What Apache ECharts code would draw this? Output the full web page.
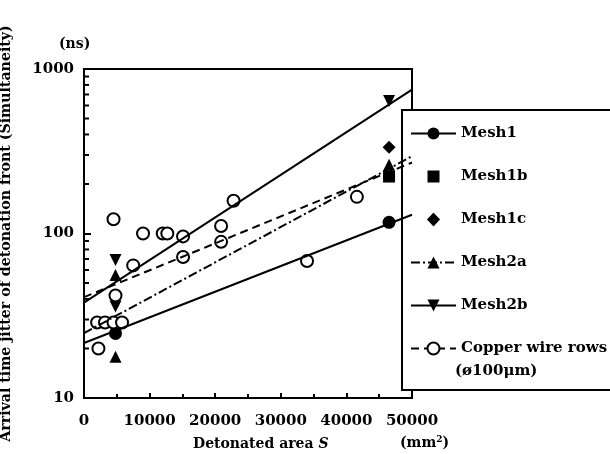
<!DOCTYPE html>
<html>
<head>
<meta charset="utf-8">
<script src="https://cdn.jsdelivr.net/npm/echarts@6/dist/echarts.min.js"></script>
<style>
  html, body { margin: 0; padding: 0; background: #fff; }
  #chart { width: 610px; height: 454px; }
</style>
</head>
<body>
<div id="chart"></div>
<script>
// measured points [area mm2, jitter ns]
var mesh1 = [[4800, 24.7], [46500, 117]];
var mesh1Fit = [[0, 21.6], [50000, 130]];
var mesh1b = [[46500, 222]];
var mesh1c = [[46500, 335]];
var mesh2a = [[4800, 56], [4800, 17.8], [46500, 262]];
var mesh2aFit = [[0, 24.8], [50000, 295]];
var mesh2b = [[4800, 69], [4800, 36], [46500, 640]];
var mesh2bFit = [[0, 38], [50000, 750]];
var copper = [[2200, 20], [2000, 28.8], [3200, 28.8], [4500, 28.8], [5800, 28.8],
  [4800, 42], [4500, 122], [7500, 64], [9000, 100], [12000, 100], [12700, 100],
  [15100, 96], [15100, 72], [20900, 111], [20900, 89], [22800, 158], [34000, 68], [41600, 167]];
var copperFit = [[0, 41], [50000, 270]];
var yMinorTicks = [20, 30, 40, 50, 60, 70, 80, 90, 200, 300, 400, 500, 600, 700, 800, 900];

var FONT = 'DejaVu Serif';
var triDown = 'path://M0,0 L10,0 L5,9 Z';
// legend icons padded inside a 15x15 box so they keep their size
var squareIcon = 'path://M0,0 M15,15 M1.5,1.5 L13.5,1.5 L13.5,13.5 L1.5,13.5 Z';
var diamondIcon = 'path://M0,0 M15,15 M7.5,0.5 L14,7.5 L7.5,14.5 L1,7.5 Z';

var legendItems = [
  { name: 'Mesh1' },
  { name: 'Mesh1b', icon: squareIcon },
  { name: 'Mesh1c', icon: diamondIcon },
  { name: 'Mesh2a' },
  { name: 'Mesh2b' },
  { name: 'Copper wire rows' }
];

var chart = echarts.init(document.getElementById('chart'));

var minorData = yMinorTicks.map(function (v) { return [0, v]; });
var solid = { color: '#000', opacity: 1 };

chart.setOption({
  backgroundColor: '#fff',
  animation: false,
  grid: {
    left: 84, right: 198, top: 69, bottom: 56,
    outerBoundsMode: 'none',
    containLabel: false,
    show: true, borderColor: '#000', borderWidth: 2
  },
  legend: {
    data: legendItems,
    orient: 'vertical',
    left: 405,
    top: 121,
    itemWidth: 45,
    itemHeight: 15,
    itemGap: 28,
    z: 6,
    textStyle: { fontFamily: FONT, fontWeight: 'bold', fontSize: 15, color: '#000' }
  },
  xAxis: {
    type: 'value',
    min: 0, max: 50000, interval: 10000,
    splitLine: { show: false },
    axisLine: { lineStyle: { color: '#000', width: 2 } },
    axisTick: { inside: true, length: 5, lineStyle: { color: '#000', width: 2 } },
    minorTick: { show: true, splitNumber: 2, length: 4, lineStyle: { color: '#000', width: 2 } },
    axisLabel: {
      margin: 16, color: '#000', fontFamily: FONT, fontWeight: 'bold', fontSize: 15,
      formatter: function (v) { return String(v); }
    }
  },
  yAxis: {
    type: 'log', logBase: 10, min: 10, max: 1000,
    name: 'Arrival time jitter of detonation front (Simultaneity)',
    nameLocation: 'middle', nameGap: 71,
    nameTextStyle: { fontFamily: FONT, fontWeight: 'bold', fontSize: 14.2, color: '#000' },
    splitLine: { show: false },
    axisLine: { lineStyle: { color: '#000', width: 2 } },
    axisTick: { inside: true, length: 7, lineStyle: { color: '#000', width: 2 } },
    axisLabel: {
      margin: 10, color: '#000', fontFamily: FONT, fontWeight: 'bold', fontSize: 15,
      formatter: function (v) { return String(Math.round(v)); }
    }
  },
  graphic: [
    {
      type: 'rect', z: 3,
      shape: { x: 402, y: 110, width: 212, height: 280 },
      style: { fill: '#fff', stroke: '#000', lineWidth: 2 }
    },
    {
      type: 'text', z: 7, left: 455, top: 364,
      style: { text: '(ø100μm)', font: 'bold 15px "DejaVu Serif"', fill: '#000' }
    },
    {
      type: 'text', z: 7, left: 59, top: 37,
      style: { text: '(ns)', font: 'bold 14px "DejaVu Serif"', fill: '#000' }
    },
    {
      type: 'text', z: 7, left: 193, top: 437,
      style: {
        text: '{a|Detonated area }{s|S}',
        rich: {
          a: { fontFamily: FONT, fontWeight: 'bold', fontSize: 14, fill: '#000' },
          s: { fontFamily: FONT, fontWeight: 'bold', fontStyle: 'italic', fontSize: 14, fill: '#000' }
        }
      }
    },
    {
      type: 'text', z: 7, left: 400, top: 435,
      style: {
        text: '(mm{u|2})',
        font: 'bold 14px "DejaVu Serif"', fill: '#000',
        rich: { u: { fontFamily: FONT, fontWeight: 'bold', fontSize: 9, verticalAlign: 'top', padding: [0, 0, 8, 0] } }
      }
    }
  ],
  series: [
    {
      name: 'Mesh1', type: 'line', data: mesh1Fit,
      showSymbol: false, symbol: 'circle', symbolSize: 12,
      itemStyle: solid,
      lineStyle: { color: '#000', width: 2 }
    },
    {
      name: 'Mesh1', type: 'scatter', data: mesh1,
      symbol: 'circle', symbolSize: 13, itemStyle: solid
    },
    {
      name: 'Mesh1b', type: 'scatter', data: mesh1b,
      symbol: 'rect', symbolSize: 12, itemStyle: solid
    },
    {
      name: 'Mesh1c', type: 'scatter', data: mesh1c,
      symbol: 'diamond', symbolSize: 13, itemStyle: solid
    },
    {
      name: 'Mesh2a', type: 'line', data: mesh2aFit,
      showSymbol: false, symbol: 'triangle', symbolSize: 12,
      itemStyle: solid,
      lineStyle: { color: '#000', width: 2, type: [9, 3, 2, 3] }
    },
    {
      name: 'Mesh2a', type: 'scatter', data: mesh2a,
      symbol: 'triangle', symbolSize: 12, itemStyle: solid
    },
    {
      name: 'Mesh2b', type: 'line', data: mesh2bFit,
      showSymbol: false, symbol: triDown, symbolSize: 12,
      itemStyle: solid,
      lineStyle: { color: '#000', width: 2 }
    },
    {
      name: 'Mesh2b', type: 'scatter', data: mesh2b,
      symbol: triDown, symbolSize: 12, itemStyle: solid
    },
    {
      name: 'Copper wire rows', type: 'line', data: copperFit,
      showSymbol: false, symbol: 'emptyCircle', symbolSize: 11,
      itemStyle: { color: '#000', borderWidth: 2, opacity: 1 },
      lineStyle: { color: '#000', width: 2, type: [8, 5] }
    },
    {
      name: 'Copper wire rows', type: 'scatter', data: copper,
      symbol: 'emptyCircle', symbolSize: 12,
      itemStyle: { color: '#000', borderColor: '#000', borderWidth: 2.2, opacity: 1 }
    },
    {
      // log minor ticks on the left axis
      name: 'minor', type: 'scatter', data: minorData, silent: true,
      symbol: 'rect', symbolSize: [5, 2], symbolOffset: [2.5, 0],
      itemStyle: solid
    }
  ]
});
</script>
</body>
</html>
